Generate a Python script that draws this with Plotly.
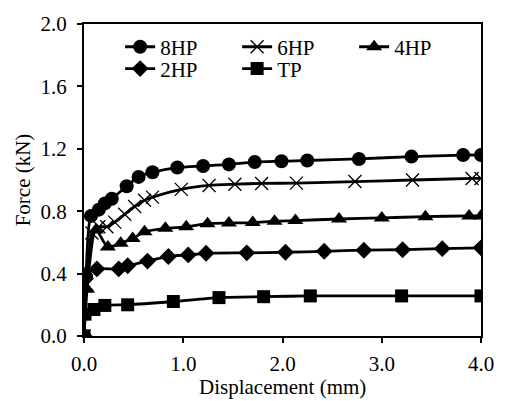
import plotly.graph_objects as go

# Data
x_8hp = [0, 0.02, 0.07, 0.15, 0.21, 0.28, 0.43, 0.55, 0.69, 0.94, 1.20, 1.46, 1.72, 1.99, 2.25, 2.77, 3.30, 3.82, 4.0]
y_8hp = [0, 0.38, 0.77, 0.81, 0.85, 0.88, 0.96, 1.02, 1.05, 1.08, 1.09, 1.10, 1.115, 1.12, 1.125, 1.135, 1.15, 1.16, 1.16]

x_6hp = [0, 0.03, 0.08, 0.15, 0.23, 0.31, 0.41, 0.51, 0.61, 0.69, 0.98, 1.26, 1.52, 1.79, 2.14, 2.73, 3.31, 3.91, 4.0]
y_6hp = [0, 0.33, 0.66, 0.70, 0.70, 0.73, 0.78, 0.83, 0.87, 0.89, 0.94, 0.965, 0.973, 0.978, 0.98, 0.99, 1.0, 1.01, 1.01]

x_4hp = [0, 0.03, 0.12, 0.24, 0.37, 0.49, 0.61, 0.82, 1.03, 1.245, 1.46, 1.70, 1.92, 2.13, 2.57, 3.0, 3.44, 3.88, 4.0]
y_4hp = [0, 0.30, 0.68, 0.57, 0.595, 0.625, 0.668, 0.69, 0.70, 0.72, 0.724, 0.727, 0.736, 0.74, 0.75, 0.757, 0.765, 0.77, 0.77]

x_2hp = [0, 0.01, 0.13, 0.35, 0.44, 0.64, 0.85, 1.05, 1.23, 1.64, 2.03, 2.42, 2.82, 3.21, 3.61, 4.0]
y_2hp = [0, 0.39, 0.43, 0.43, 0.45, 0.48, 0.51, 0.52, 0.53, 0.533, 0.537, 0.543, 0.55, 0.553, 0.56, 0.565]

x_tp = [0, 0.01, 0.10, 0.21, 0.44, 0.90, 1.36, 1.81, 2.28, 3.20, 4.0]
y_tp = [0, 0.14, 0.17, 0.196, 0.20, 0.221, 0.246, 0.252, 0.257, 0.257, 0.257]

x_ticks = [0, 1, 2, 3, 4]
x_ticklabels = ["0.0", "1.0", "2.0", "3.0", "4.0"]
y_ticks = [0, 0.4, 0.8, 1.2, 1.6, 2.0]
y_ticklabels = ["0.0", "0.4", "0.8", "1.2", "1.6", "2.0"]

series = [
    ("8HP", x_8hp, y_8hp, "circle", 14, 0, "legend"),
    ("6HP", x_6hp, y_6hp, "x-thin", 13, 1.3, "legend"),
    ("4HP", x_4hp, y_4hp, "triangle-up", 14, 0, "legend"),
    ("2HP", x_2hp, y_2hp, "diamond", 13, 0, "legend2"),
    ("TP", x_tp, y_tp, "square", 13, 0, "legend2"),
]

fig = go.Figure()
for name, xs, ys, sym, size, lw, lg in series:
    fig.add_trace(go.Scatter(
        x=xs, y=ys, name=name, mode="lines+markers", legend=lg,
        line=dict(color="black", width=2.8, shape="spline", smoothing=0.7),
        marker=dict(symbol=sym, size=size, color="black",
                    line=dict(color="black", width=lw)),
    ))

font = dict(family="Liberation Serif", size=21, color="black")

legend_common = dict(
    orientation="h", xanchor="left", yanchor="middle",
    bgcolor="rgba(0,0,0,0)", entrywidth=72, entrywidthmode="pixels",
    tracegroupgap=0, font=font, itemwidth=30,
)

fig.update_layout(
    width=506, height=401,
    margin=dict(l=84, r=13, t=14, b=65),
    paper_bgcolor="white", plot_bgcolor="white",
    font=font,
    showlegend=True,
    legend=dict(x=0.091, y=0.926, **legend_common),
    legend2=dict(x=0.091, y=0.856, **legend_common),
    xaxis=dict(
        range=[0, 4], tickvals=x_ticks, ticktext=x_ticklabels,
        ticks="outside", ticklen=5, tickwidth=1.5, tickcolor="black",
        showline=True, linecolor="black", linewidth=2, mirror=True,
        showgrid=False, zeroline=False, ticklabelstandoff=3,
        tickfont=font,
    ),
    yaxis=dict(
        range=[0, 2], tickvals=y_ticks, ticktext=y_ticklabels,
        ticks="outside", ticklen=5, tickwidth=1.5, tickcolor="black",
        showline=True, linecolor="black", linewidth=2, mirror=True,
        showgrid=False, zeroline=False, ticklabelstandoff=6,
        title=dict(text="Force (kN)", font=font, standoff=4),
        tickfont=font,
    ),
    annotations=[dict(
        text="Displacement (mm)", xref="paper", yref="paper",
        x=0.5, y=-0.163, xanchor="center", yanchor="middle",
        showarrow=False, font=font,
    )],
)

fig.write_html("out.html")
